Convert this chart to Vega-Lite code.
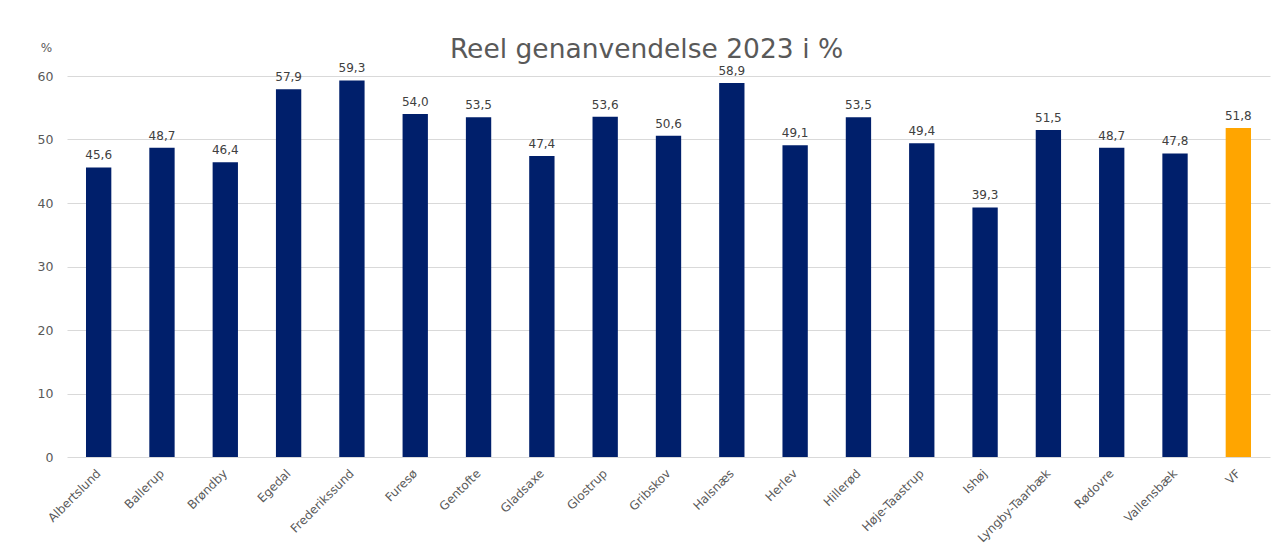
{
  "$schema": "https://vega.github.io/schema/vega-lite/v6.json",
  "width": 1203,
  "height": 381,
  "autosize": {"type": "none"},
  "padding": {"left": 67, "top": 76, "right": 5, "bottom": 103},
  "background": "white",
  "config": {
    "locale": {"number": {"decimal": ",", "thousands": ".", "grouping": [3], "currency": ["", " kr."]}},
    "view": {"stroke": null},
    "font": "DejaVu Sans"
  },
  "title": {
    "text": "Reel genanvendelse 2023 i %",
    "fontSize": 26.5,
    "font": "DejaVu Sans",
    "fontWeight": "normal",
    "color": "#595959",
    "anchor": "middle",
    "frame": "group",
    "dx": -22,
    "offset": -22
  },
  "data": {
    "values": [
      {"kommune": "Albertslund", "value": 45.6, "type": "kommune"},
      {"kommune": "Ballerup", "value": 48.7, "type": "kommune"},
      {"kommune": "Brøndby", "value": 46.4, "type": "kommune"},
      {"kommune": "Egedal", "value": 57.9, "type": "kommune"},
      {"kommune": "Frederikssund", "value": 59.3, "type": "kommune"},
      {"kommune": "Furesø", "value": 54.0, "type": "kommune"},
      {"kommune": "Gentofte", "value": 53.5, "type": "kommune"},
      {"kommune": "Gladsaxe", "value": 47.4, "type": "kommune"},
      {"kommune": "Glostrup", "value": 53.6, "type": "kommune"},
      {"kommune": "Gribskov", "value": 50.6, "type": "kommune"},
      {"kommune": "Halsnæs", "value": 58.9, "type": "kommune"},
      {"kommune": "Herlev", "value": 49.1, "type": "kommune"},
      {"kommune": "Hillerød", "value": 53.5, "type": "kommune"},
      {"kommune": "Høje-Taastrup", "value": 49.4, "type": "kommune"},
      {"kommune": "Ishøj", "value": 39.3, "type": "kommune"},
      {"kommune": "Lyngby-Taarbæk", "value": 51.5, "type": "kommune"},
      {"kommune": "Rødovre", "value": 48.7, "type": "kommune"},
      {"kommune": "Vallensbæk", "value": 47.8, "type": "kommune"},
      {"kommune": "VF", "value": 51.8, "type": "VF"}
    ]
  },
  "encoding": {
    "x": {
      "field": "kommune",
      "type": "nominal",
      "sort": null,
      "scale": {"paddingInner": 0.6, "paddingOuter": 0.3},
      "axis": {
        "title": null,
        "labelAngle": -45,
        "labelAlign": "right",
        "labelBaseline": "middle",
        "labelPadding": 14,
        "labelFontSize": 12,
        "labelColor": "#595959",
        "ticks": false,
        "domain": false,
        "grid": false
      }
    },
    "y": {
      "field": "value",
      "type": "quantitative",
      "scale": {"domain": [0, 60], "nice": false},
      "axis": {
        "title": "%",
        "titleAngle": 0,
        "titleX": -21,
        "titleY": -29,
        "titleAlign": "center",
        "titleBaseline": "middle",
        "titleFontSize": 12,
        "titleFontWeight": "normal",
        "titleColor": "#595959",
        "values": [0, 10, 20, 30, 40, 50, 60],
        "labelFontSize": 12.5,
        "labelColor": "#595959",
        "labelPadding": 14,
        "ticks": false,
        "domain": false,
        "grid": true,
        "gridColor": "#D9D9D9",
        "gridWidth": 1
      }
    }
  },
  "layer": [
    {
      "mark": {"type": "bar"},
      "encoding": {
        "color": {
          "field": "type",
          "type": "nominal",
          "scale": {"domain": ["kommune", "VF"], "range": ["#001F6B", "#FFA500"]},
          "legend": null
        }
      }
    },
    {
      "mark": {"type": "text", "dy": -8, "baseline": "alphabetic", "fontSize": 12, "color": "#404040"},
      "encoding": {
        "text": {"field": "value", "type": "quantitative", "format": ".1f"}
      }
    }
  ]
}
